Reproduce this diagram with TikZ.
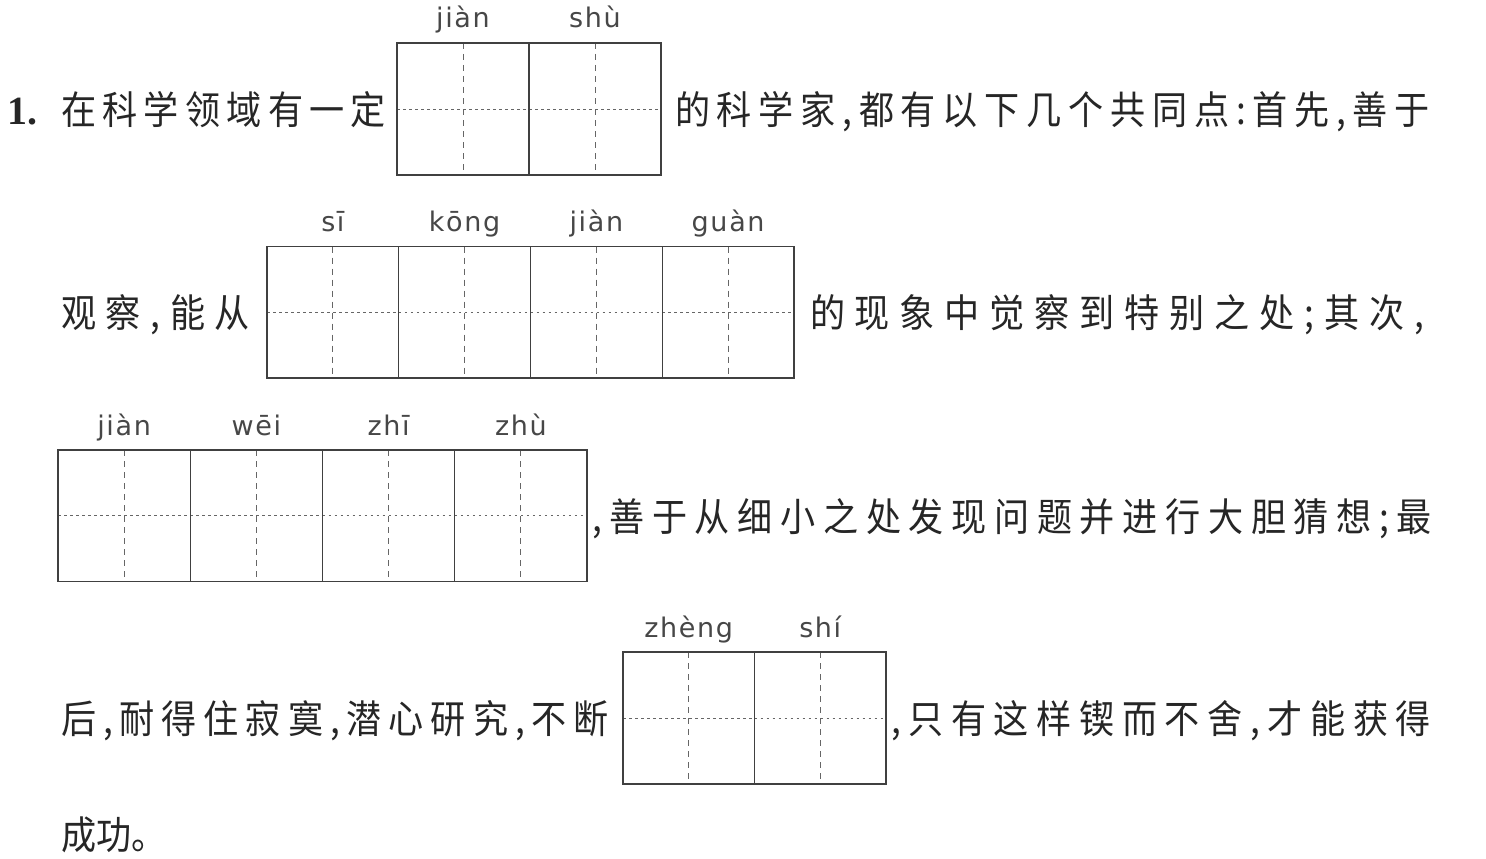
\documentclass[tikz,border=0pt]{standalone}
\usepackage{fontspec}
\newfontfamily\cjk{Noto Sans CJK SC}[FakeStretch=0.9]
\newfontfamily\pyfont{DejaVu Sans}[LetterSpace=6]
\newfontfamily\numfont{Liberation Serif}
\newcommand\spreadtext[2]{\hbox to #1pt{\frenchspacing\spaceskip=0pt plus 1fil\xspaceskip=0pt plus 1fil\relax #2}}
\tikzset{
  txt/.style={anchor=base west, inner sep=0pt, outer sep=0pt, text=black!85, font=\cjk\fontsize{39}{39}\selectfont},
  py/.style={anchor=base, inner sep=0pt, text=black!72, font=\pyfont\fontsize{27}{27}\selectfont},
  cellline/.style={draw=black!75, line width=1.3pt},
  vdash/.style={draw=black!60, line width=0.8pt, dash pattern=on 6pt off 5pt},
  hdash/.style={draw=black!60, line width=0.8pt, dash pattern=on 2.5pt off 3.5pt},
}
% #1 name, #2 x0, #3 y0, #4 cell width, #5 cell height, #6 pinyin list
\newcommand\tzg[6]{%
  \foreach \p [count=\k from 0] in {#6} {
    \draw[vdash] ({#2+(\k+0.5)*#4},#3) -- ++(0,#5);
    \draw[hdash] ({#2+\k*#4},{#3+#5/2}) -- ++(#4,0);
    \draw[cellline] ({#2+\k*#4},#3) rectangle ++(#4,#5);
    \node[py] (#1-\k) at ({#2+(\k+0.5)*#4},{#3-15}) {\p};
  }
}
\begin{document}
\begin{tikzpicture}[x=1pt,y=-1pt]
\useasboundingbox[fill=white] (0,0) rectangle (1486,859);
% line 1
\node[anchor=base west, inner sep=0pt, text=black!85, font=\numfont\bfseries\fontsize{40}{40}\selectfont] (num) at (7,124.5) {1.};
\node[txt] (l1a) at (61,124.5) {\spreadtext{325}{在 科 学 领 域 有 一 定}};
\tzg{b1}{397}{43}{132}{132}{jiàn,shù}
\node[txt] (l1b) at (675,124.5) {\spreadtext{755}{的 科 学 家 , 都 有 以 下 几 个 共 同 点 : 首 先 , 善 于}};
% line 2
\node[txt] (l2a) at (61,327.5) {\spreadtext{189}{观 察 , 能 从}};
\tzg{b2}{267}{246.5}{131.75}{131.5}{sī,kōng,jiàn,guàn}
\node[txt] (l2b) at (810,327.5) {\spreadtext{614}{的 现 象 中 觉 察 到 特 别 之 处 ; 其 次 ,}};
% line 3
\tzg{b3}{58}{450}{132.25}{131.5}{jiàn,wēi,zhī,zhù}
\node[txt] (l3b) at (592,531.5) {\spreadtext{840}{, 善 于 从 细 小 之 处 发 现 问 题 并 进 行 大 胆 猜 想 ; 最}};
% line 4
\node[txt] (l4a) at (61,733) {\spreadtext{548}{后 , 耐 得 住 寂 寞 , 潜 心 研 究 , 不 断}};
\tzg{b4}{623}{652}{131.5}{132}{zhèng,shí}
\node[txt] (l4b) at (891,733) {\spreadtext{540}{, 只 有 这 样 锲 而 不 舍 , 才 能 获 得}};
% line 5
\node[txt] (l5) at (61,849) {成功。};
\end{tikzpicture}
\end{document}
